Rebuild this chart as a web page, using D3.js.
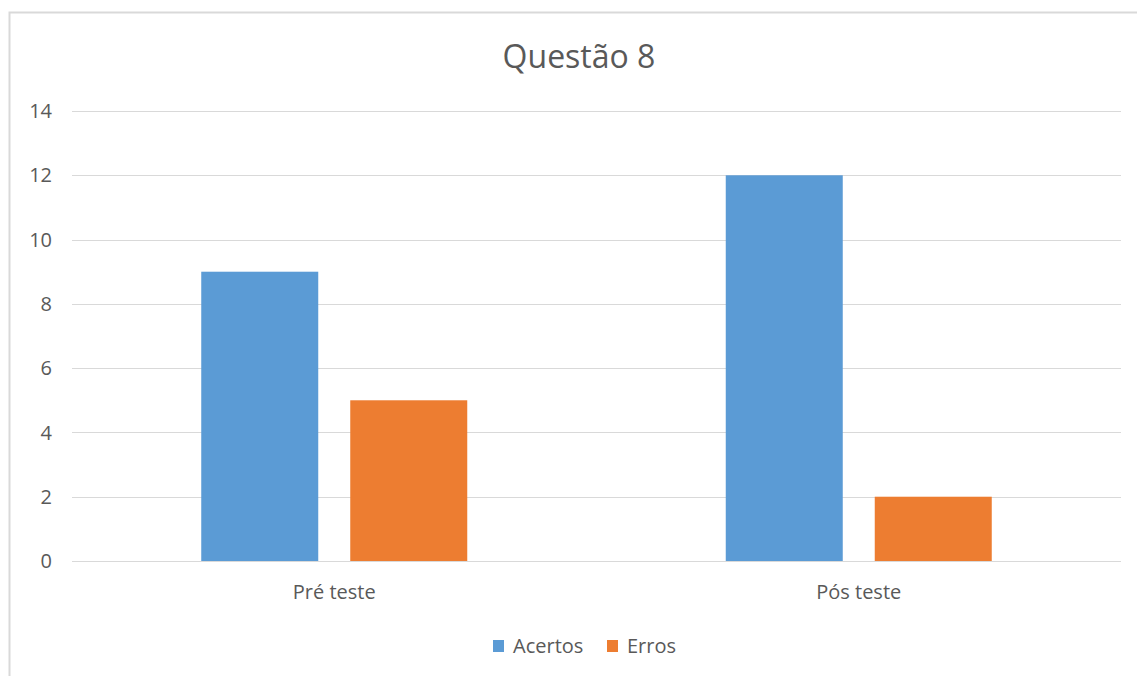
<!DOCTYPE html>
<html>
<head>
<meta charset="utf-8">
<script src="https://cdn.jsdelivr.net/npm/d3@7"></script>
<style>
  html, body { margin: 0; padding: 0; background: #fff; }
  svg { display: block; }
  text { font-family: "Open Sans", "Noto Sans", sans-serif; fill: #595959; }
</style>
</head>
<body>
<svg id="chart" width="1137" height="676"></svg>
<script>
const categories = ["Pré teste", "Pós teste"];
const seriesNames = ["Acertos", "Erros"];
const acertos = [9, 12];
const erros = [5, 2];
const yTicks = [0, 2, 4, 6, 8, 10, 12, 14];
const colors = ["#5B9BD5", "#ED7D31"];

const svg = d3.select("#chart");
const W = 1137, H = 676;

// chart frame
svg.append("path")
  .attr("d", `M9.5,${H} V12.5 H${W}`)
  .attr("fill", "none")
  .attr("stroke", "#d9d9d9")
  .attr("stroke-width", 2);

const plot = { left: 72, right: 1121, top: 111, bottom: 561 };

const x0 = d3.scaleBand().domain(categories).range([plot.left, plot.right]).paddingInner(0).paddingOuter(0);
const y = d3.scaleLinear().domain([0, 14]).range([plot.bottom, plot.top]);

// gridlines
svg.append("g").selectAll("line").data(yTicks).join("line")
  .attr("x1", plot.left).attr("x2", plot.right)
  .attr("y1", d => Math.round(y(d)) + 0.5).attr("y2", d => Math.round(y(d)) + 0.5)
  .attr("stroke", "#d9d9d9").attr("stroke-width", 1);

// y-axis labels
svg.append("g").selectAll("text").data(yTicks).join("text")
  .attr("x", 52).attr("y", d => y(d))
  .attr("dy", "0.36em")
  .attr("text-anchor", "end")
  .attr("font-size", 20)
  .text(d => d);

// bars
const rows = categories.map((c, i) => ({ cat: c, vals: [acertos[i], erros[i]] }));
const barW = 117, gap = 32;
const groups = svg.append("g").selectAll("g").data(rows).join("g");
groups.selectAll("rect").data(d => d.vals.map((v, j) => ({ cat: d.cat, v, j }))).join("rect")
  .attr("x", d => {
    const c = x0(d.cat) + x0.bandwidth() / 2;
    return d.j === 0 ? c - gap / 2 - barW : c + gap / 2;
  })
  .attr("width", barW)
  .attr("y", d => y(d.v))
  .attr("height", d => y(0) - y(d.v))
  .attr("fill", d => colors[d.j]);

// category labels
svg.append("g").selectAll("text").data(categories).join("text")
  .attr("x", d => x0(d) + x0.bandwidth() / 2)
  .attr("y", 599)
  .attr("text-anchor", "middle")
  .attr("font-size", 20)
  .text(d => d);

// title
svg.append("text")
  .attr("x", 579).attr("y", 68)
  .attr("text-anchor", "middle")
  .attr("font-size", 32)
  .text("Questão 8");

// legend
const legend = svg.append("g");
const legendItems = [{ x: 493 }, { x: 607 }];
seriesNames.forEach((name, i) => {
  const lx = legendItems[i].x;
  legend.append("rect").attr("x", lx).attr("y", 640).attr("width", 11).attr("height", 12).attr("fill", colors[i]);
  legend.append("text").attr("x", lx + 20).attr("y", 653).attr("font-size", 20).text(name);
});
</script>
</body>
</html>
